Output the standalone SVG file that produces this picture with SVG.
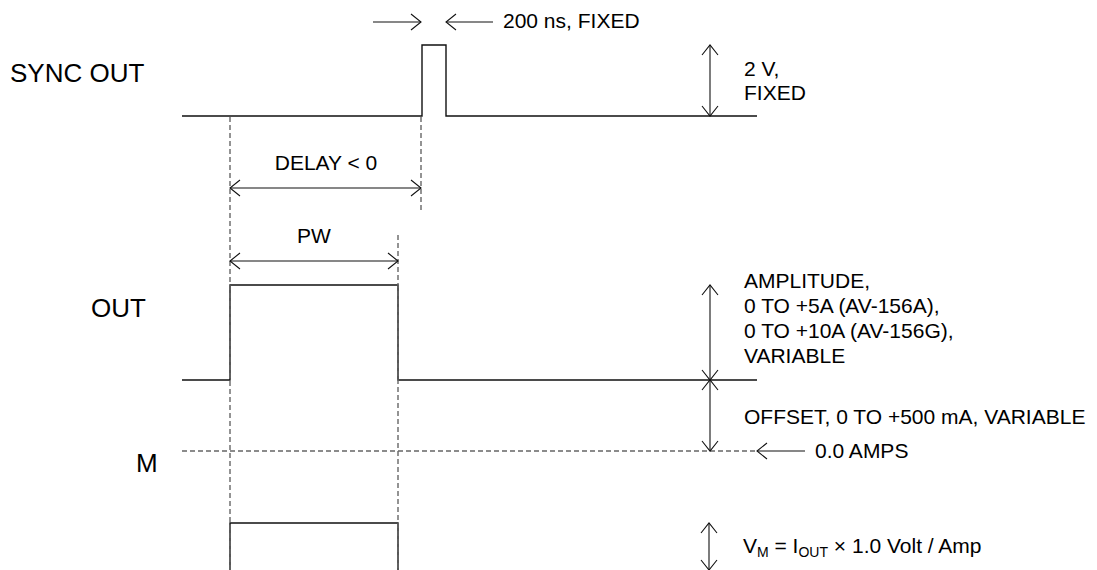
<svg xmlns="http://www.w3.org/2000/svg" width="1097" height="570" viewBox="0 0 1097 570">
<style>
.t{font-family:"Liberation Sans",Arial,sans-serif;font-size:21px;fill:#000}
.lbl{font-family:"Liberation Sans",Arial,sans-serif;font-size:26px;fill:#000}
.w{fill:none;stroke:#111;stroke-width:1.4}
.d{fill:none;stroke:#666;stroke-width:1.4;stroke-dasharray:5,3}
.a{fill:none;stroke:#111;stroke-width:1.1}
.sub{font-size:14px}
</style>
<defs>
<marker id="ah" markerUnits="userSpaceOnUse" markerWidth="14" markerHeight="20" viewBox="-12 -10 14 20" refX="0" refY="0" orient="auto-start-reverse">
<path d="M-10,-8 L0,0 L-10,8" fill="none" stroke="#111" stroke-width="1.1"/>
</marker>
</defs>
<rect width="1097" height="570" fill="#fff"/>
<g id="labels">
<text class="lbl" x="10" y="82">SYNC OUT</text>
<text class="lbl" x="91" y="317">OUT</text>
<text class="lbl" x="136" y="472">M</text>
</g>
<g id="sync-out">
<path class="w" d="M182,116 H422 V45 H446 V116 H757"/>
</g>
<g id="out">
<path class="w" d="M182,380 H230 V285 H398 V380 H757"/>
</g>
<g id="m-wave">
<path class="w" d="M230,570 V523 H398 V570"/>
</g>
<g id="guides">
<line class="d" x1="230" y1="117" x2="230" y2="570"/>
<line class="d" x1="421" y1="117" x2="421" y2="212"/>
<line class="d" x1="398" y1="235" x2="398" y2="570"/>
<line class="d" x1="182" y1="451" x2="757" y2="451"/>
</g>
<g id="connectors">
<line class="a" x1="373" y1="22" x2="421" y2="22" marker-end="url(#ah)"/>
<line class="a" x1="493" y1="22" x2="446" y2="22" marker-end="url(#ah)"/>
<line class="a" x1="710" y1="45" x2="710" y2="116" marker-start="url(#ah)" marker-end="url(#ah)"/>
<line class="a" x1="230" y1="188" x2="421" y2="188" marker-start="url(#ah)" marker-end="url(#ah)"/>
<line class="a" x1="230" y1="261" x2="398" y2="261" marker-start="url(#ah)" marker-end="url(#ah)"/>
<line class="a" x1="710" y1="285" x2="710" y2="380" marker-start="url(#ah)" marker-end="url(#ah)"/>
<line class="a" x1="710" y1="380" x2="710" y2="451" marker-start="url(#ah)" marker-end="url(#ah)"/>
<line class="a" x1="805" y1="451" x2="757" y2="451" marker-end="url(#ah)"/>
<line class="a" x1="709" y1="523" x2="709" y2="570" marker-start="url(#ah)" marker-end="url(#ah)"/>
</g>
<g id="annotations">
<text class="t" x="503" y="28">200 ns, FIXED</text>
<text class="t" x="744" y="76">2 V,</text>
<text class="t" x="744" y="100">FIXED</text>
<text class="t" x="326" y="170" text-anchor="middle">DELAY &lt; 0</text>
<text class="t" x="314" y="243" text-anchor="middle">PW</text>
<text class="t" x="744" y="288">AMPLITUDE,</text>
<text class="t" x="744" y="313">0 TO +5A (AV-156A),</text>
<text class="t" x="744" y="338">0 TO +10A (AV-156G),</text>
<text class="t" x="744" y="363">VARIABLE</text>
<text class="t" x="744" y="424">OFFSET, 0 TO +500 mA, VARIABLE</text>
<text class="t" x="815" y="458">0.0 AMPS</text>
<text class="t" x="743" y="553">V<tspan class="sub" dy="4">M</tspan><tspan dy="-4"> = I</tspan><tspan class="sub" dy="4">OUT</tspan><tspan dy="-4"> × 1.0 Volt / Amp</tspan></text>
</g>
</svg>
